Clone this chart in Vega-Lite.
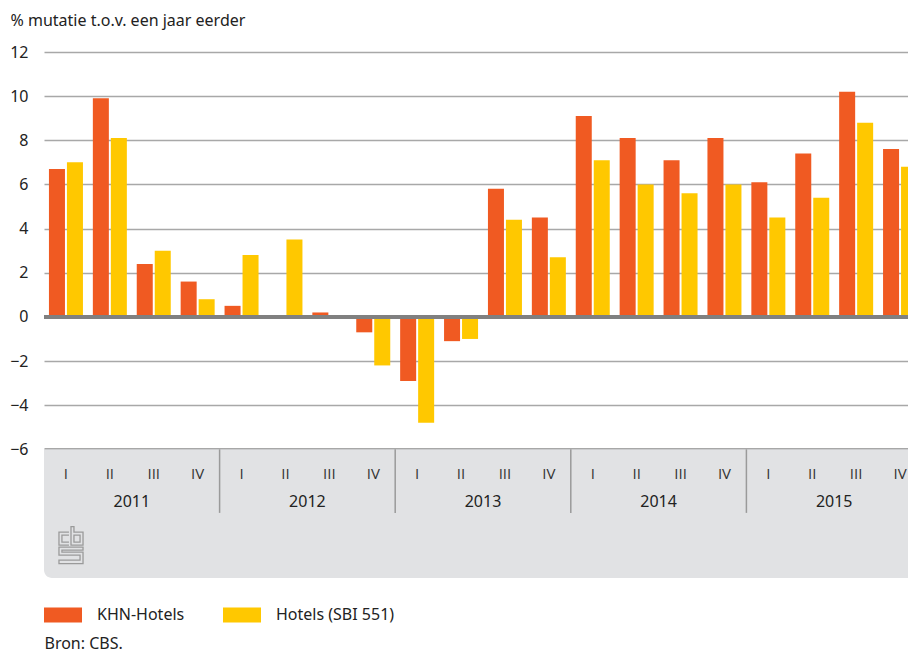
{
  "$schema": "https://vega.github.io/schema/vega-lite/v6.json",
  "width": 864,
  "height": 526,
  "autosize": {"type": "none"},
  "padding": {"left": 44, "top": 52, "right": 0, "bottom": 74},
  "background": "white",
  "config": {
    "view": {"stroke": null},
    "font": "Noto Sans"
  },
  "datasets": {
    "bars": [
      {"period": "2011-I", "q": "I", "series": "KHN-Hotels", "value": 6.7},
      {"period": "2011-I", "q": "I", "series": "Hotels (SBI 551)", "value": 7.0},
      {"period": "2011-II", "q": "II", "series": "KHN-Hotels", "value": 9.9},
      {"period": "2011-II", "q": "II", "series": "Hotels (SBI 551)", "value": 8.1},
      {"period": "2011-III", "q": "III", "series": "KHN-Hotels", "value": 2.4},
      {"period": "2011-III", "q": "III", "series": "Hotels (SBI 551)", "value": 3.0},
      {"period": "2011-IV", "q": "IV", "series": "KHN-Hotels", "value": 1.6},
      {"period": "2011-IV", "q": "IV", "series": "Hotels (SBI 551)", "value": 0.8},
      {"period": "2012-I", "q": "I", "series": "KHN-Hotels", "value": 0.5},
      {"period": "2012-I", "q": "I", "series": "Hotels (SBI 551)", "value": 2.8},
      {"period": "2012-II", "q": "II", "series": "KHN-Hotels", "value": 0.05},
      {"period": "2012-II", "q": "II", "series": "Hotels (SBI 551)", "value": 3.5},
      {"period": "2012-III", "q": "III", "series": "KHN-Hotels", "value": 0.2},
      {"period": "2012-III", "q": "III", "series": "Hotels (SBI 551)", "value": 0.0},
      {"period": "2012-IV", "q": "IV", "series": "KHN-Hotels", "value": -0.7},
      {"period": "2012-IV", "q": "IV", "series": "Hotels (SBI 551)", "value": -2.2},
      {"period": "2013-I", "q": "I", "series": "KHN-Hotels", "value": -2.9},
      {"period": "2013-I", "q": "I", "series": "Hotels (SBI 551)", "value": -4.8},
      {"period": "2013-II", "q": "II", "series": "KHN-Hotels", "value": -1.1},
      {"period": "2013-II", "q": "II", "series": "Hotels (SBI 551)", "value": -1.0},
      {"period": "2013-III", "q": "III", "series": "KHN-Hotels", "value": 5.8},
      {"period": "2013-III", "q": "III", "series": "Hotels (SBI 551)", "value": 4.4},
      {"period": "2013-IV", "q": "IV", "series": "KHN-Hotels", "value": 4.5},
      {"period": "2013-IV", "q": "IV", "series": "Hotels (SBI 551)", "value": 2.7},
      {"period": "2014-I", "q": "I", "series": "KHN-Hotels", "value": 9.1},
      {"period": "2014-I", "q": "I", "series": "Hotels (SBI 551)", "value": 7.1},
      {"period": "2014-II", "q": "II", "series": "KHN-Hotels", "value": 8.1},
      {"period": "2014-II", "q": "II", "series": "Hotels (SBI 551)", "value": 6.0},
      {"period": "2014-III", "q": "III", "series": "KHN-Hotels", "value": 7.1},
      {"period": "2014-III", "q": "III", "series": "Hotels (SBI 551)", "value": 5.6},
      {"period": "2014-IV", "q": "IV", "series": "KHN-Hotels", "value": 8.1},
      {"period": "2014-IV", "q": "IV", "series": "Hotels (SBI 551)", "value": 6.0},
      {"period": "2015-I", "q": "I", "series": "KHN-Hotels", "value": 6.1},
      {"period": "2015-I", "q": "I", "series": "Hotels (SBI 551)", "value": 4.5},
      {"period": "2015-II", "q": "II", "series": "KHN-Hotels", "value": 7.4},
      {"period": "2015-II", "q": "II", "series": "Hotels (SBI 551)", "value": 5.4},
      {"period": "2015-III", "q": "III", "series": "KHN-Hotels", "value": 10.2},
      {"period": "2015-III", "q": "III", "series": "Hotels (SBI 551)", "value": 8.8},
      {"period": "2015-IV", "q": "IV", "series": "KHN-Hotels", "value": 7.6},
      {"period": "2015-IV", "q": "IV", "series": "Hotels (SBI 551)", "value": 6.8}
    ],
    "years": [
      {"year": "2011", "mid": "2011-III"},
      {"year": "2012", "mid": "2012-III"},
      {"year": "2013", "mid": "2013-III"},
      {"year": "2014", "mid": "2014-III"},
      {"year": "2015", "mid": "2015-III"}
    ],
    "separators": [
      {"start": "2012-I"},
      {"start": "2013-I"},
      {"start": "2014-I"},
      {"start": "2015-I"}
    ],
    "logo": [{"name": "CBS"}]
  },
  "layer": [
    {
      "data": {"name": "logo"},
      "mark": {"type": "rect", "color": "#e1e2e4", "cornerRadiusBottomLeft": 8},
      "encoding": {
        "y": {"datum": -6, "type": "quantitative", "scale": {"domain": [-11.83, 12], "nice": false, "zero": false}},
        "y2": {"datum": -11.83}
      }
    },
    {
      "data": {"name": "bars"},
      "mark": {"type": "bar", "clip": true},
      "encoding": {
        "x": {
          "field": "period", "type": "nominal", "sort": null,
          "scale": {"range": [0, 878], "paddingInner": 0, "paddingOuter": 0},
          "axis": {
            "labels": false, "ticks": false, "domain": false, "grid": false,
            "title": "Bron: CBS.", "titleX": 0, "titleY": 65, "titleAlign": "left",
            "titleAnchor": "start", "titleBaseline": "middle", "titleFontWeight": "normal",
            "titleFontSize": 16, "titleColor": "#222222", "titleFont": "Noto Sans"
          }
        },
        "xOffset": {
          "field": "series", "type": "nominal", "sort": ["KHN-Hotels", "Hotels (SBI 551)"],
          "scale": {"paddingInner": 0.11, "paddingOuter": 0.275}
        },
        "y": {
          "field": "value", "type": "quantitative",
          "axis": {
            "values": [-6, -4, -2, 0, 2, 4, 6, 8, 10, 12],
            "ticks": false, "domain": false, "grid": true,
            "gridColor": {"condition": {"test": "datum.value === -6", "value": "#8a8a8a"}, "value": "#a8a8a8"},
            "gridWidth": {"condition": {"test": "datum.value === -6", "value": 2.5}, "value": 1.4},
            "labelFontSize": 16, "labelColor": "#222222", "labelPadding": 16, "labelFont": "Noto Sans",
            "title": "% mutatie t.o.v. een jaar eerder", "titleAngle": 0, "titleX": -34, "titleY": -32,
            "titleAlign": "left", "titleBaseline": "middle", "titleFontWeight": "normal",
            "titleFontSize": 16, "titleColor": "#222222", "titleFont": "Noto Sans"
          }
        },
        "color": {
          "field": "series", "type": "nominal", "sort": ["KHN-Hotels", "Hotels (SBI 551)"],
          "scale": {"domain": ["KHN-Hotels", "Hotels (SBI 551)"], "range": ["#f05a22", "#ffc800"]},
          "legend": {
            "title": null, "orient": "none", "legendX": 0, "legendY": 544, "direction": "horizontal",
            "padding": 0, "symbolType": "M-1,-0.395H1V0.395H-1Z", "symbolSize": 1444,
            "symbolStrokeWidth": 0, "labelOffset": 15, "columnPadding": 38,
            "labelFontSize": 16, "labelColor": "#222222", "labelFont": "Noto Sans"
          }
        }
      }
    },
    {
      "data": {"name": "bars"},
      "mark": {"type": "rule", "color": "#808080", "strokeWidth": 3},
      "encoding": {"y": {"datum": 0}}
    },
    {
      "data": {"name": "bars"},
      "transform": [{"filter": "datum.series === 'KHN-Hotels'"}],
      "mark": {"type": "text", "font": "Open Sans", "fontSize": 15, "color": "#333333", "baseline": "middle"},
      "encoding": {
        "x": {"field": "period", "type": "nominal", "sort": null},
        "y": {"datum": -7.12},
        "text": {"field": "q"}
      }
    },
    {
      "data": {"name": "years"},
      "mark": {"type": "text", "font": "Noto Sans", "fontSize": 16, "color": "#222222", "baseline": "middle"},
      "encoding": {
        "x": {"field": "mid", "type": "nominal", "sort": null, "bandPosition": 0},
        "y": {"datum": -8.39},
        "text": {"field": "year"}
      }
    },
    {
      "data": {"name": "separators"},
      "mark": {"type": "rule", "color": "#9a9a9a", "strokeWidth": 1.5},
      "encoding": {
        "x": {"field": "start", "type": "nominal", "sort": null, "bandPosition": 0},
        "y": {"datum": -6},
        "y2": {"datum": -8.88}
      }
    },
    {
      "data": {"name": "logo"},
      "mark": {
        "type": "point", "filled": false, "stroke": "#9a9a9a", "strokeWidth": 1.3, "opacity": 1,
        "shape": "M-0.11,-0.70H-0.65V0H-0.11M-0.11,-0.54H-0.49V-0.16H-0.11M0,-1V0H0.65V-0.70H0.16V-1ZM0.16,-0.54H0.49V-0.16H0.16ZM0.65,0.11H-0.65V0.54H0.49V0.81H-0.65V1H0.65V0.38H-0.49V0.27H0.65Z",
        "size": 1369
      },
      "encoding": {
        "x": {"datum": "2011-I", "type": "nominal", "bandPosition": 0.615},
        "y": {"datum": -10.34}
      }
    }
  ]
}
